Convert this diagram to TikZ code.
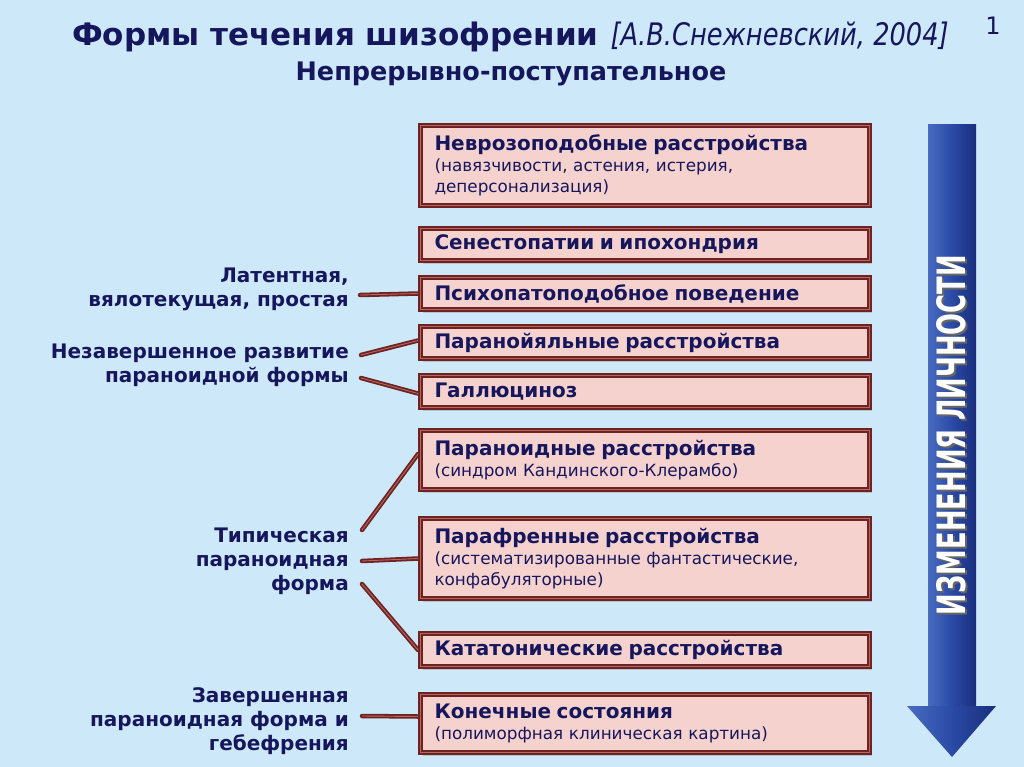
\documentclass[tikz,border=0pt]{standalone}
\usepackage{fontspec}
\setmainfont{DejaVu Sans}
\usetikzlibrary{shadows,calc}
\definecolor{bg}{RGB}{205,233,249}
\definecolor{navy}{RGB}{22,22,92}
\definecolor{boxfill}{RGB}{246,210,206}
\definecolor{brd}{RGB}{112,34,34}
\definecolor{hl}{RGB}{178,104,94}
\definecolor{arrL}{RGB}{72,108,192}
\definecolor{arrM}{RGB}{42,74,166}
\definecolor{arrR}{RGB}{26,46,124}
\newcommand{\bfs}{\fontsize{20}{24}\selectfont\bfseries}
\newcommand{\sms}{\fontsize{16.8}{21}\selectfont}
\tikzset{
  box/.style={rectangle, fill=boxfill, draw=brd, line width=5pt,
    minimum width=449pt, anchor=north west, align=left, text width=421pt,
    inner xsep=12.5pt, inner ysep=2pt, text=navy, font=\sms,
    drop shadow={opacity=0.35, shadow xshift=2pt, shadow yshift=-3pt},
    postaction={draw=hl, line width=1.2pt}},
  conn/.style={draw=brd, line width=4.5pt, line cap=round,
    postaction={draw=hl, line width=0.9pt}},
  lbl/.style={anchor=east, align=right, text=navy, font=\bfs, inner sep=0pt}
}
\begin{document}
\begin{tikzpicture}[x=1pt,y=-1pt]
\useasboundingbox (0,0) rectangle (1024,767);
\fill[bg] (0,0) rectangle (1024,767);
% title
\node[anchor=base west, text=navy, inner sep=0pt] (title) at (72,46)
  {\fontsize{31}{36}\selectfont\bfseries Формы течения шизофрении\hspace{12pt}\mdseries\itshape\scalebox{0.83}[1]{[А.В.Снежневский, 2004]}};
\node[anchor=base, text=navy, inner sep=0pt] (sub) at (511,81)
  {\fontsize{25.5}{30}\selectfont\bfseries Непрерывно-поступательное};
\node[anchor=base, text=navy, inner sep=0pt] (num) at (993,35)
  {\fontsize{24}{28}\selectfont 1};
% arrow
\shade[left color=arrL, right color=arrR, middle color=arrM]
  (928,125) rectangle (976,708);
\shade[left color=arrL, right color=arrR, middle color=arrM]
  (907,706) -- (996,706) -- (952,757) -- cycle;
\node[rotate=90, inner sep=0pt] (arrtxt) at (953.5,437)
  {\color{black!60}\resizebox{360pt}{29pt}{\bfseries ИЗМЕНЕНИЯ ЛИЧНОСТИ}};
\node[rotate=90, inner sep=0pt, text=white] (arrtxt2) at (951.5,435)
  {\resizebox{360pt}{29pt}{\bfseries ИЗМЕНЕНИЯ ЛИЧНОСТИ}};
% boxes
\node[box, minimum height=80pt] (b1) at (418,123)
  {{\bfs Невроз\-оподобные расстройства}\\(навязчивости, астения, истерия,\\деперсонализация)};
\node[box, minimum height=32pt] (b2) at (418,226) {\bfs Сенестопатии и ипохондрия};
\node[box, minimum height=32pt] (b3) at (418,275) {\bfs Психопатоподобное поведение};
\node[box, minimum height=32pt] (b4) at (418,324) {\bfs Паранойяльные расстройства};
\node[box, minimum height=32pt] (b5) at (418,373) {\bfs Галлюциноз};
\node[box, minimum height=59pt] (b6) at (418,428)
  {{\bfs Параноидные расстройства}\\(синдром Кандинского-Клерамбо)};
\node[box, minimum height=80pt] (b7) at (418,516)
  {{\bfs Парафренные расстройства}\\(систематизированные фантастические,\\конфабуляторные)};
\node[box, minimum height=33pt] (b8) at (418,631) {\bfs Кататонические расстройства};
\node[box, minimum height=58pt] (b9) at (418,692)
  {{\bfs Конечные состояния}\\(полиморфная клиническая картина)};
% labels
\node[lbl] (l1) at (349,289) {Латентная,\\вялотекущая, простая};
\node[lbl] (l2) at (349,365) {Незавершенное развитие\\параноидной формы};
\node[lbl] (l3) at (349,561) {Типическая\\параноидная\\форма};
\node[lbl] (l4) at (349,721) {Завершенная\\параноидная форма и\\гебефрения};
% connectors
\coordinate (c1) at (360,295);
\coordinate (c2) at (361,355);
\coordinate (c3) at (361,378);
\coordinate (c4) at (362,530);
\coordinate (c5) at (362,561);
\coordinate (c6) at (362,584);
\coordinate (c7) at (362,716);
\draw[conn] (c1) -- (b3.west);
\draw[conn] (c2) -- ($(b4.west)+(0,-2)$);
\draw[conn] (c3) -- ($(b5.west)+(0,2)$);
\draw[conn] (c4) -- ($(b6.west)+(0,-6)$);
\draw[conn] (c5) -- (b7.west);
\draw[conn] (c6) -- ($(b8.west)+(0,0)$);
\draw[conn] (c7) -- ($(b9.west)+(0,-7)$);
\end{tikzpicture}
\end{document}
